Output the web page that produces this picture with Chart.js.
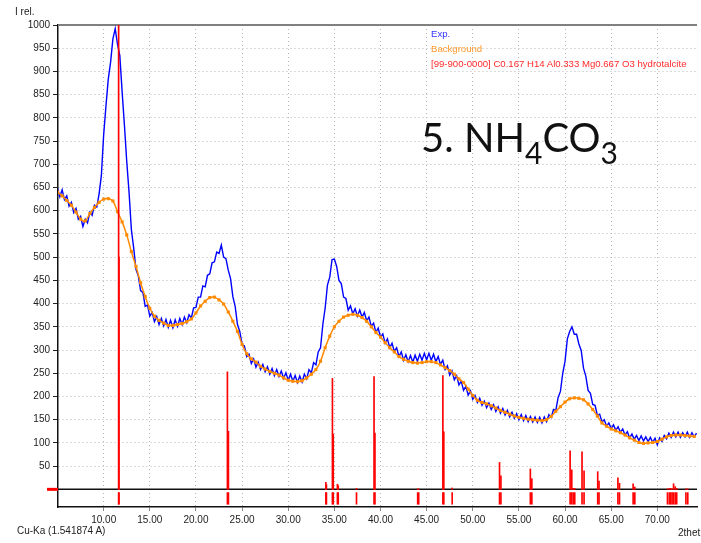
<!DOCTYPE html>
<html>
<head>
<meta charset="utf-8">
<title>XRD NH4CO3</title>
<script src="https://cdn.jsdelivr.net/npm/chart.js@4.4.1/dist/chart.umd.min.js"></script>
<style>
  html, body { margin: 0; padding: 0; background: #fff; overflow: hidden; }
  #wrap { position: relative; width: 701px; height: 543px; }
  #chart { position: absolute; left: 0; top: 0; }
  .txt { position: absolute; font-family: "Liberation Sans", Arial, sans-serif; font-size: 10px; line-height: 12px; color: #222; white-space: nowrap; }
  .leg { font-size: 9.6px; }
  #title { position: absolute; left: 421px; top: 117px; font-family: Lato, "Open Sans", sans-serif; font-size: 40px; line-height: 40px; color: #111; white-space: nowrap; }
  #title sub { font-size: 30px; vertical-align: -12px; line-height: 0; }
</style>
</head>
<body>
<div id="wrap">
  <canvas id="chart" width="701" height="543"></canvas>
  <div class="txt" style="left:15px; top:6px;">I rel.</div>
  <div class="txt leg" style="left:431px; top:28px; color:#3333ff;">Exp.</div>
  <div class="txt leg" style="left:431px; top:43px; color:#ff9a2e;">Background</div>
  <div class="txt leg" style="left:431px; top:58px; color:#ff2a2a;">[99-900-0000] C0.167 H14 Al0.333 Mg0.667 O3 hydrotalcite</div>
  <div class="txt" style="left:17px; top:525px;">Cu-Ka (1.541874 A)</div>
  <div class="txt" style="left:678px; top:527px;">2thet</div>
  <div id="title">5. NH<sub>4</sub>CO<sub>3</sub></div>
</div>
<script>
// measured scan (Exp.), 2theta from 5.00 in 0.25 deg steps
const expStart = 5.0;
const expStep = 0.25;
const expCounts = [
  648, 630, 645, 624,   632, 610, 618, 596,   605, 582, 588, 566,   582, 574, 597, 590,
  612, 608, 636, 676,   764, 826, 884, 920,   970, 992, 958, 934,   856, 784, 706, 640,
  560, 520, 474, 460,   428, 424, 394, 397,   373, 381, 361, 372,   355, 368, 352, 366,
  349, 364, 348, 365,   351, 368, 355, 371,   359, 376, 369, 391,   392, 414, 414, 438,
  436, 461, 464, 488,   490, 511, 508, 526,   500, 497, 472, 454,   415, 394, 355, 340,
  312, 309, 286, 291,   271, 281, 263, 274,   258, 269, 253, 264,   248, 260, 245, 258,
  243, 255, 239, 251,   235, 248, 233, 245,   230, 244, 231, 248,   238, 258, 251, 273,
  268, 296, 305, 355,   390, 440, 457, 495,   496, 480, 450, 443,   414, 411, 386, 395,
  378, 389, 373, 386,   371, 381, 363, 371,   351, 358, 338, 347,   328, 335, 315, 324,
  305, 315, 297, 305,   286, 296, 278, 290,   275, 288, 274, 289,   276, 291, 278, 293,
  279, 293, 278, 291,   275, 286, 269, 278,   258, 266, 246, 255,   236, 245, 225, 233,
  213, 222, 203, 212,   194, 202, 187, 196,   181, 190, 176, 186,   172, 182, 168, 178,
  164, 174, 160, 170,   156, 166, 153, 163,   150, 161, 148, 159,   146, 157, 145, 156,
  144, 155, 143, 156,   146, 161, 155, 172,   170, 198, 211, 250,   276, 324, 340, 350,
  334, 334, 313, 299,   261, 244, 213, 207,   183, 181, 160, 162,   145, 150, 136, 143,
  131, 139, 127, 135,   123, 130, 117, 124,   111, 119, 108, 116,   105, 115, 104, 113,
  103, 112, 101, 110,    96, 111, 103, 116,   109, 121, 112, 123,   113, 123, 112, 122,
  113, 123, 112, 122,   113, 121
];

// fitted background, 2theta from 5.0 in 0.5 deg steps
const bgStart = 5.0;
const bgStep = 0.5;
const bgCounts = [
  640, 632, 622, 612, 597, 582, 578, 594, 607, 618,
  625, 626, 621, 598, 576, 548, 512, 480, 445, 415,
  390, 373, 364, 358, 353, 353, 355, 357, 361, 367,
  380, 395, 405, 413, 414, 408, 399, 382, 362, 340,
  312, 292, 281, 274, 265, 259, 254, 250, 246, 240,
  235, 233, 232, 234, 240, 248, 258, 276, 305, 330,
  350, 362, 371, 375, 377, 375, 370, 362, 350, 338,
  328, 316, 305, 296, 286, 280, 276, 273, 272, 273,
  275, 275, 273, 268, 262, 256, 248, 238, 230, 216,
  202, 192, 187, 184, 180, 175, 170, 166, 162, 158,
  155, 153, 151, 150, 149, 148, 150, 157, 168, 178,
  188, 195, 197, 196, 193, 184, 172, 158, 143, 136,
  130, 126, 122, 117, 111, 106, 101, 99, 100, 101,
  103, 108, 113, 116, 117, 117, 116, 115, 114
];

// reference pattern [99-900-0000] hydrotalcite
const refPos = [
  11.62, 11.66, 23.41, 23.52, 34.08, 34.14, 34.79, 34.88, 35.33, 35.42,
  37.40, 39.30, 39.40, 44.03, 44.14, 46.76, 46.86, 47.77, 52.90, 53.05,
  56.24, 56.40, 60.55, 60.73, 60.90, 61.05, 61.84, 62.06, 63.54, 63.68,
  65.73, 65.90, 67.38, 67.56, 71.10, 71.30, 71.45, 71.60, 71.76, 71.94,
  72.10, 73.10, 73.30
];
const refHeight = [
  1000, 500, 253, 125, 15, 10, 239, 119, 11, 8,
  2, 243, 121, 1, 1, 245, 124, 3, 58, 29,
  44, 23, 83, 42, 2, 2, 81, 40, 38, 18,
  25, 13, 12, 5, 1, 2, 2, 1, 12, 6,
  2, 1, 1
];

const xTicks = [10, 15, 20, 25, 30, 35, 40, 45, 50, 55, 60, 65, 70];
const yTicks = [50, 100, 150, 200, 250, 300, 350, 400, 450, 500,
                550, 600, 650, 700, 750, 800, 850, 900, 950, 1000];

const X_MIN = 5.05, X_MAX = 74.3;
const Y_MIN = -38, Y_MAX = 1000;
const MARK_LOW = -32, MARK_HIGH = -7;   // position strip below the zero line

const expData = expCounts.map((v, i) => ({ x: expStart + i * expStep, y: v }));
const bgData = bgCounts.map((v, i) => ({ x: bgStart + i * bgStep, y: v }));
const stickData = refPos.map((p, i) => ({ x: p, y: [0, refHeight[i]] }));
const markData = refPos.map(p => ({ x: p, y: [MARK_LOW, MARK_HIGH] }));

// zero line, red marker at the left, grey top border
const framePlugin = {
  id: 'frame',
  beforeDatasetsDraw(chart) {
    const { ctx, chartArea: a, scales: { y } } = chart;
    const y0 = y.getPixelForValue(0);
    ctx.save();
    ctx.strokeStyle = '#111';
    ctx.lineWidth = 1.5;
    ctx.beginPath(); ctx.moveTo(a.left, y0); ctx.lineTo(a.right, y0); ctx.stroke();
    ctx.strokeStyle = '#ff0000';
    ctx.lineWidth = 3;
    ctx.beginPath(); ctx.moveTo(a.left - 11, y0); ctx.lineTo(a.left, y0); ctx.stroke();
    ctx.strokeStyle = '#808080';
    ctx.lineWidth = 2;
    ctx.beginPath(); ctx.moveTo(a.left, a.top); ctx.lineTo(a.right, a.top); ctx.stroke();
    ctx.restore();
  }
};

const tickFont = { family: '"Liberation Sans", Arial, sans-serif', size: 10 };

new Chart(document.getElementById('chart').getContext('2d'), {
  type: 'scatter',
  data: {
    datasets: [{
      type: 'bar',
      label: 'ref',
      data: stickData,
      backgroundColor: '#ff0000',
      barThickness: 1,
      grouped: false,
      order: 0
    }, {
      type: 'bar',
      label: 'ref marks',
      data: markData,
      backgroundColor: '#ff0000',
      barThickness: 1,
      grouped: false,
      order: 0
    }, {
      type: 'line',
      label: 'Background',
      data: bgData,
      borderColor: '#ff8a00',
      backgroundColor: '#ff8a00',
      borderWidth: 1.5,
      pointStyle: 'rect',
      pointRadius: 2.2,
      pointBorderWidth: 0,
      tension: 0.3,
      fill: false,
      order: 1
    }, {
      type: 'line',
      label: 'Exp.',
      data: expData,
      borderColor: '#0000ff',
      borderWidth: 1.4,
      pointRadius: 0,
      tension: 0,
      fill: false,
      order: 2
    }]
  },
  options: {
    responsive: false,
    animation: false,
    events: [],
    layout: { padding: { top: 25, right: 1, left: 0, bottom: 0 } },
    plugins: {
      legend: { display: false },
      tooltip: { enabled: false }
    },
    scales: {
      x: {
        type: 'linear',
        min: X_MIN,
        max: X_MAX,
        offset: false,
        afterBuildTicks: (scale) => { scale.ticks = xTicks.map(v => ({ value: v })); },
        afterFit: (scale) => { scale.height = 36; },
        ticks: {
          callback: (v) => Number(v).toFixed(2),
          font: tickFont,
          color: '#222',
          padding: 3,
          maxRotation: 0
        },
        grid: { offset: false, color: '#b8b8b8', tickColor: '#888', tickLength: 4, lineWidth: 1 },
        border: { color: '#111', width: 1.5, dash: [1, 3] }
      },
      y: {
        type: 'linear',
        min: Y_MIN,
        max: Y_MAX,
        afterBuildTicks: (scale) => { scale.ticks = yTicks.map(v => ({ value: v })); },
        afterFit: (scale) => { scale.width = 58; },
        ticks: {
          callback: (v) => String(v),
          font: tickFont,
          color: '#222',
          padding: 3
        },
        grid: { color: '#b8b8b8', tickColor: '#222', tickLength: 5, lineWidth: 1 },
        border: { color: '#111', width: 1.5, dash: [1, 3] }
      }
    }
  },
  plugins: [framePlugin]
});
</script>
</body>
</html>
